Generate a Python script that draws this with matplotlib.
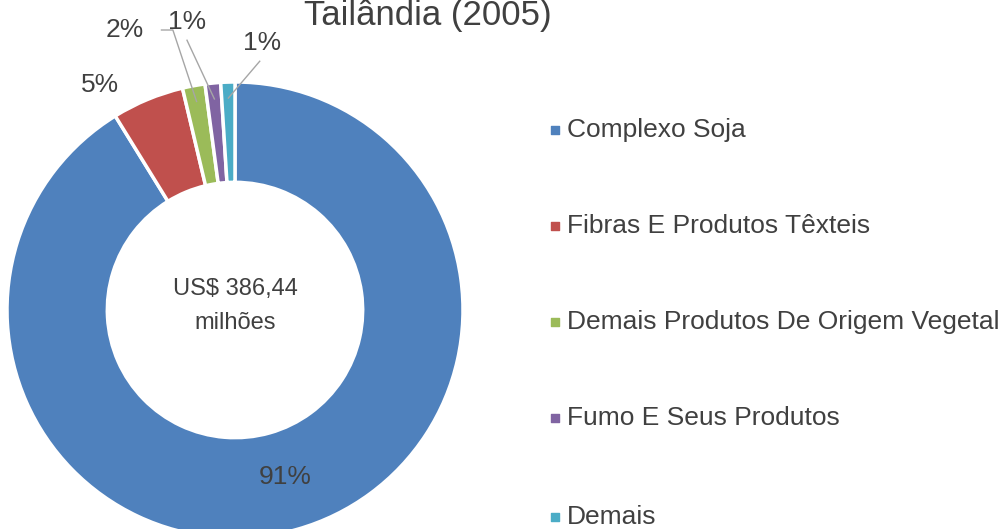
import matplotlib.pyplot as plt
import numpy as np

plt.rcParams['font.family'] = ['Liberation Sans', 'DejaVu Sans']

# Exportações para a Tailândia (2005), participação por produto
CATEGORIES = ['Complexo Soja', 'Fibras E Produtos Têxteis',
              'Demais Produtos De Origem Vegetal', 'Fumo E Seus Produtos', 'Demais']
SHARES = [91.2, 5.1, 1.6, 1.1, 1.0]
LABELS = ['91%', '5%', '2%', '1%', '1%']
COLORS = ['#4F81BD', '#C0504D', '#9BBB59', '#8064A2', '#4BACC6']
TITLE = 'Tailândia (2005)'
CENTER_TEXT = 'US$ 386,44\nmilhões'

W, H = 1006, 529
CX, CY, R = 235, 310, 228  # donut centre / radius in pixels


def main():
    fig = plt.figure(figsize=(W / 100, H / 100), dpi=100)
    ax = fig.add_axes([0, 0, 1, 1])

    wedges, _ = ax.pie(SHARES, colors=COLORS, startangle=90, counterclock=False,
                       radius=1, wedgeprops=dict(width=0.44, edgecolor='white', linewidth=2.5))
    ax.set_aspect('auto')
    ax.set_xlim(-CX / R, (W - CX) / R)
    ax.set_ylim(-(H - CY) / R, CY / R)
    ax.axis('off')

    txt = '#404040'
    # label positions (pixels) for each slice label, leader target radius
    label_px = [(285, 477), (100, 85), (125, 30), (187, 22), (262, 43)]
    leader = [None, None, (0.93, 'elbow'), (0.93, 'line'), (0.93, 'line')]
    for w, lab, (px, py), ld in zip(wedges, LABELS, label_px, leader):
        x, y = (px - CX) / R, (CY - py) / R
        ax.text(x, y, lab, ha='center', va='center', fontsize=19, color=txt)
        if ld is None:
            continue
        mid = np.deg2rad((w.theta1 + w.theta2) / 2)
        tx, ty = ld[0] * np.cos(mid), ld[0] * np.sin(mid)
        if ld[1] == 'elbow':
            sx = x + 0.16
            ax.plot([sx, sx + 0.05, tx], [y, y, ty], color='#A6A6A6', lw=1)
        else:
            ax.plot([x + (0.0 if x < 0 else -0.01), tx], [y - 0.08, ty], color='#A6A6A6', lw=1)

    ax.text(0, (CY - 306) / R, CENTER_TEXT, ha='center', va='center', fontsize=17,
            color=txt, linespacing=1.65)
    ax.text((428 - CX) / R, (CY - 25) / R, TITLE, ha='center', va='baseline',
            fontsize=25, color=txt)

    # legend
    rows_y = [130, 226, 322, 418, 517]
    for cat, col, py in zip(CATEGORIES, COLORS, rows_y):
        y = (CY - py) / R
        ax.scatter([(555 - CX) / R], [y], marker='s', s=36, color=col)
        ax.text((567 - CX) / R, y, cat, ha='left', va='center', fontsize=19,
                color='#404040')

    fig.savefig('out.png', dpi=100)


if __name__ == '__main__':
    main()
